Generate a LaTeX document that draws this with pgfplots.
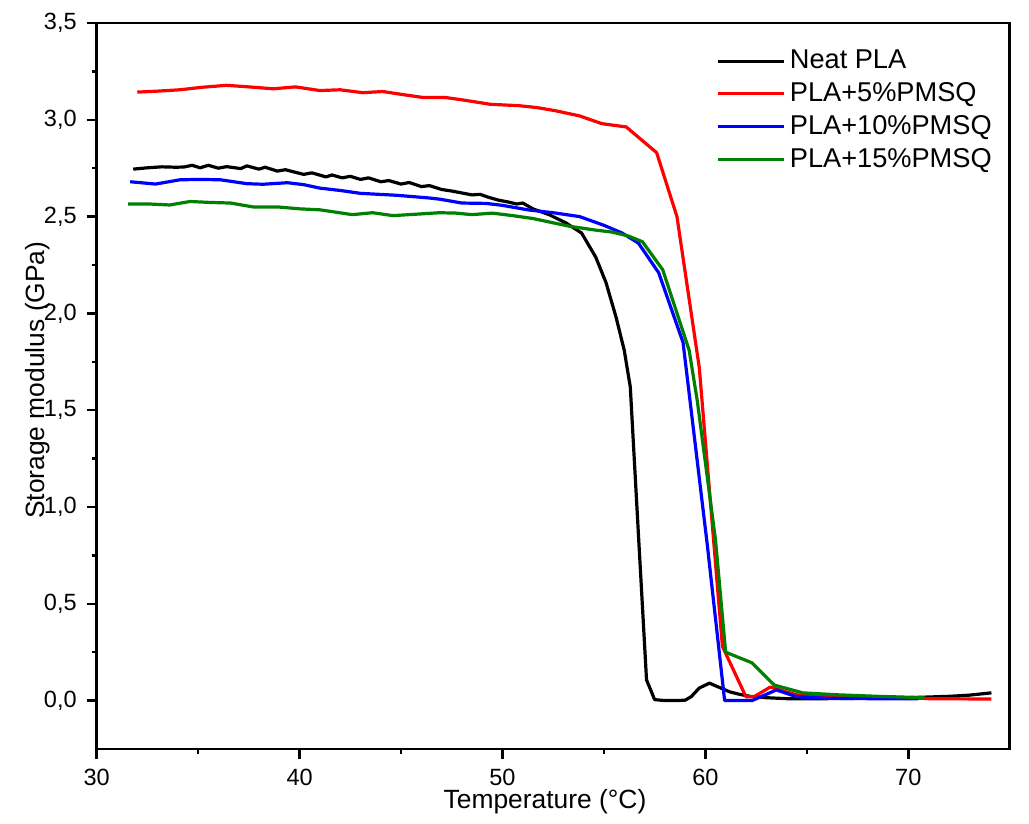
\documentclass[border=0pt]{standalone}
\usepackage{pgfplots}
\pgfplotsset{compat=1.18}
\usepackage{fontspec}
\setmainfont{Liberation Sans}

\definecolor{pgreen}{RGB}{0,128,0}

\begin{document}
\begin{tikzpicture}
\begin{axis}[
  scale only axis, width=456.5pt, height=363pt,
  xmin=30, xmax=75, ymin=-0.25, ymax=3.5,
  xtick={30,40,50,60,70},
  ytick={0,0.5,1,1.5,2,2.5,3,3.5},
  minor x tick num=1, minor y tick num=1,
  tick pos=left, tick align=outside,
  major tick length=5pt, minor tick length=2.5pt,
  axis line style={line width=1.25pt},
  tick style={black, line width=1.25pt},
  tick label style={font=\fontsize{11.75}{14}\selectfont},
  /pgf/number format/assume math mode=true,
  xticklabel style={yshift=-1.5pt},
  yticklabel style={xshift=-1.5pt, /pgf/number format/.cd, fixed, fixed zerofill, precision=1, use comma},
  xlabel={Temperature (°C)},
  ylabel={Storage modulus (GPa)},
  label style={font=\fontsize{13.2}{16}\selectfont},
  xlabel style={at={(axis description cs:0.491,-0.0725)}, anchor=center},
  ylabel style={at={(axis description cs:-0.0643,0.508)}, anchor=center},
  no markers,
  every axis plot/.append style={line width=1.6pt, line join=round},
  legend style={draw=none, fill=none, inner sep=0pt,
    font=\fontsize{13.6}{16.8}\selectfont,
    at={(axis description cs:0.6786,0.9685)}, anchor=north west,
    row sep=1.45pt},
  legend cell align=left,
  legend image code/.code={\path (0pt,0pt) -- (33pt,0pt);\draw[#1] (0pt,0pt) -- (32pt,0pt);},
]
% Neat PLA
\addplot[black] coordinates {
(31.8,2.745) (32.5,2.752) (33.2,2.757) (33.9,2.755) (34.3,2.756) (34.7,2.765)
(35.1,2.752) (35.5,2.765) (36.0,2.750) (36.4,2.758) (37.1,2.748) (37.4,2.762)
(38.0,2.745) (38.3,2.755) (38.9,2.735) (39.3,2.742) (40.2,2.718) (40.6,2.726)
(41.3,2.705) (41.6,2.715) (42.1,2.700) (42.5,2.708) (43.0,2.692) (43.4,2.700)
(44.0,2.680) (44.4,2.686) (45.0,2.668) (45.4,2.676) (46.0,2.655) (46.4,2.660)
(47.0,2.640) (47.5,2.632) (48.0,2.622) (48.5,2.612) (48.9,2.615) (49.3,2.600)
(49.8,2.585) (50.3,2.575) (50.7,2.565) (51.0,2.570) (51.5,2.540) (52.3,2.510)
(53.15,2.466) (53.9,2.415) (54.6,2.290) (55.1,2.160) (55.6,1.980) (56.0,1.810)
(56.3,1.620) (56.7,0.860) (57.1,0.107) (57.5,0.005) (58.0,0.0) (58.5,0.0)
(59.0,0.002) (59.3,0.020) (59.7,0.065) (60.2,0.090) (60.6,0.072) (61.2,0.045)
(61.7,0.032) (62.2,0.022) (63.0,0.015) (64.0,0.010) (66.0,0.010) (68.0,0.012)
(70.0,0.015) (72.0,0.022) (73.0,0.028) (74.1,0.040)
};
\addlegendentry{Neat PLA}
% PLA + 5% PMSQ
\addplot[red] coordinates {
(32.0,3.143) (33.0,3.148) (34.1,3.155) (35.2,3.168) (36.4,3.178) (37.5,3.170)
(38.7,3.160) (39.8,3.170) (41.0,3.151) (42.0,3.155) (43.1,3.140) (44.1,3.146)
(45.1,3.130) (46.1,3.115) (47.2,3.115) (48.2,3.100) (49.4,3.080) (50.8,3.073)
(51.7,3.063) (52.6,3.047) (53.8,3.020) (54.9,2.980) (56.1,2.963) (57.6,2.830)
(58.6,2.500) (59.7,1.720) (60.84,0.280) (62.0,0.020) (62.4,0.020) (63.2,0.070)
(64.5,0.030) (66.0,0.020) (68.0,0.018) (70.0,0.015) (71.0,0.010) (74.1,0.008)
};
\addlegendentry{PLA+5\%PMSQ}
% PLA + 10% PMSQ
\addplot[blue] coordinates {
(31.65,2.680) (32.9,2.668) (34.1,2.690) (35.1,2.692) (36.1,2.690) (37.4,2.670)
(38.2,2.667) (39.4,2.675) (40.2,2.665) (41.0,2.647) (42.0,2.635) (43.0,2.620)
(44.8,2.610) (46.4,2.596) (46.9,2.590) (48.0,2.570) (49.2,2.568) (50.0,2.558)
(51.3,2.534) (52.5,2.520) (53.8,2.500) (55.0,2.455) (55.9,2.415) (56.7,2.363)
(57.7,2.210) (58.9,1.850) (60.1,0.800) (60.95,0.0) (62.3,0.0) (63.5,0.055)
(64.5,0.020) (66.0,0.012) (68.0,0.010) (70.5,0.010)
};
\addlegendentry{PLA+10\%PMSQ}
% PLA + 15% PMSQ
\addplot[pgreen] coordinates {
(31.55,2.565) (32.6,2.565) (33.6,2.560) (34.6,2.578) (35.6,2.573) (36.6,2.570)
(37.7,2.550) (38.9,2.550) (40.0,2.540) (41.0,2.535) (42.6,2.510) (43.6,2.520)
(44.6,2.505) (45.7,2.512) (46.9,2.520) (47.7,2.518) (48.5,2.510) (49.5,2.518)
(50.5,2.505) (51.5,2.490) (52.4,2.470) (53.3,2.450) (54.6,2.430) (55.4,2.420)
(56.2,2.400) (56.9,2.370) (57.9,2.225) (59.2,1.810) (59.6,1.550) (60.5,0.830)
(61.0,0.250) (62.3,0.195) (63.4,0.080) (64.8,0.040) (66.5,0.030) (68.5,0.022)
(70.8,0.015)
};
\addlegendentry{PLA+15\%PMSQ}
\end{axis}
\path (current axis.south west) ++(-48.35pt,-37.5pt) rectangle ++(514.5pt,412pt);
\end{tikzpicture}
\end{document}
